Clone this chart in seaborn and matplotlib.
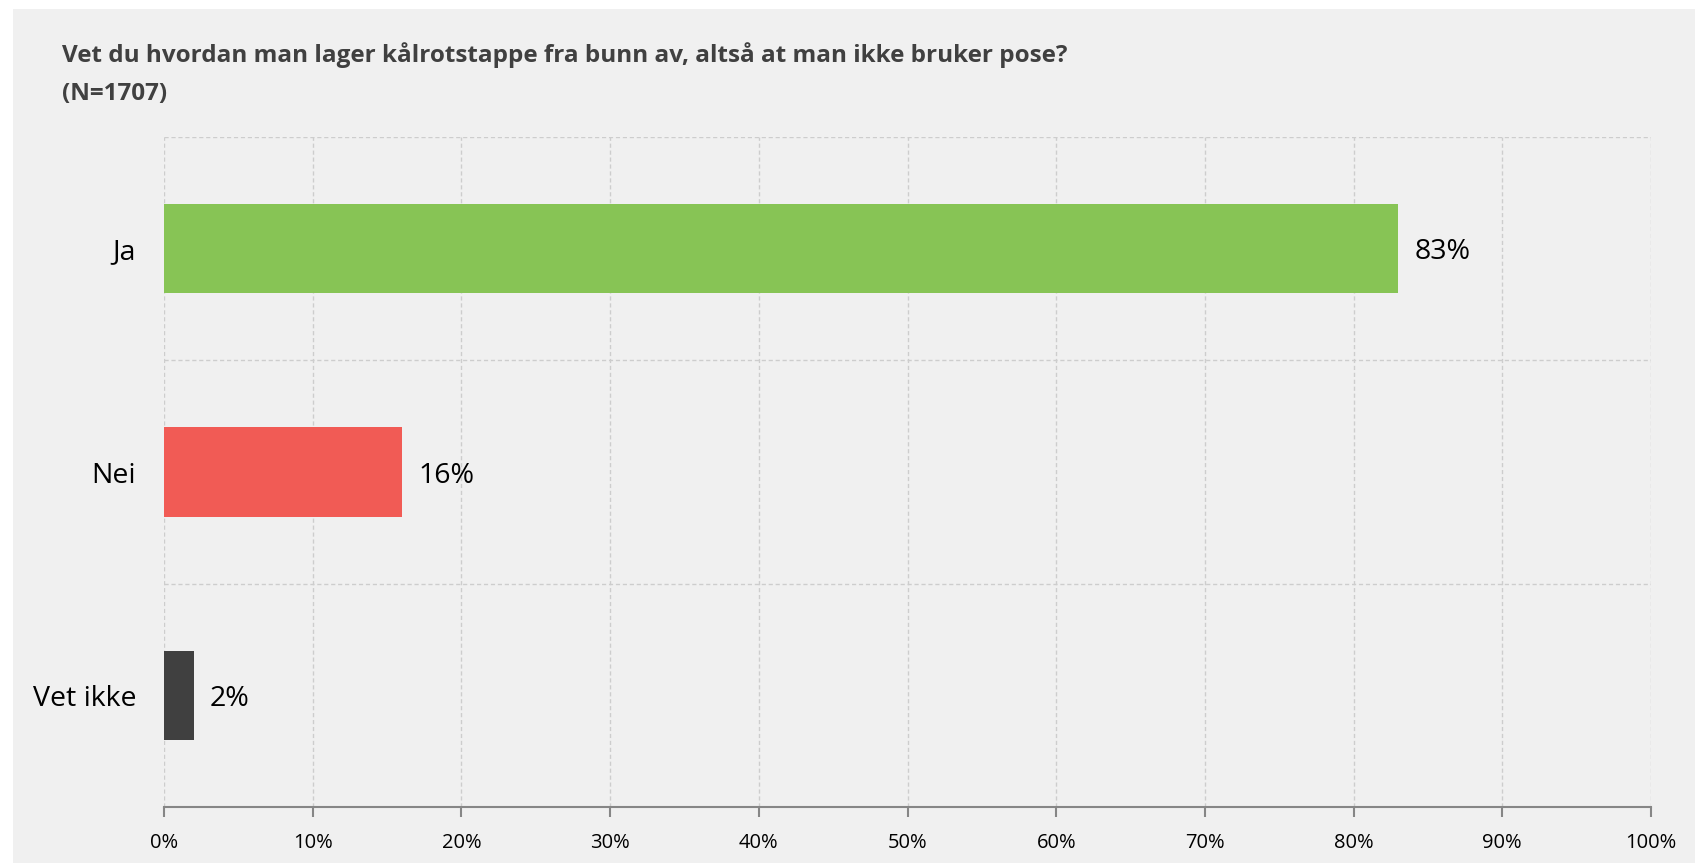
import numpy as np
import pandas as pd
import matplotlib
matplotlib.use("Agg")
import matplotlib.pyplot as plt
import seaborn as sns
from matplotlib.patches import Rectangle

# data
categories = ["Ja", "Nei", "Vet ikke"]
values = [83, 16, 2]
bar_colors = ["#87C455", "#F15B55", "#404040"]
x_ticks = list(range(0, 101, 10))
title = "Vet du hvordan man lager kålrotstappe fra bunn av, altså at man ikke bruker pose?\n(N=1707)"

df = pd.DataFrame({"svar": categories, "andel": values})

sns.set_style("white")
plt.rcParams["font.family"] = ["Open Sans", "DejaVu Sans"]

fig = plt.figure(figsize=(16.95, 8.64), dpi=100, facecolor="white")
# light grey panel behind everything
fig.patches.append(Rectangle((13 / 1695, 1 / 864), 1, 1 - 10 / 864, transform=fig.transFigure,
                             facecolor="#F0F0F0", edgecolor="none", zorder=-10))

ax = fig.add_axes([164 / 1695, 1 - 807 / 864, (1651 - 164) / 1695, (807 - 137) / 864])
ax.set_facecolor("none")

sns.barplot(data=df, x="andel", y="svar", hue="svar", palette=bar_colors, legend=False,
            orient="h", width=0.4, saturation=1, linewidth=0, edgecolor="none", ax=ax, zorder=3)

for i, v in enumerate(values):
    ax.text(v + 1.1, i, f"{v}%", va="center_baseline", ha="left", fontsize=20.5, color="black")

ax.set_xlim(0, 100)
ax.set_ylim(2.5, -0.5)
ax.set_xticks(x_ticks)
ax.set_xticklabels([f"{t}%" for t in x_ticks], fontsize=14.5, color="black")
ax.set_yticks(range(len(categories)))
ax.set_yticklabels(categories, fontsize=20.5, color="black", va="center_baseline")
ax.set_yticks([-0.5, 0.5, 1.5], minor=True)
ax.tick_params(axis="y", which="both", length=0, pad=20)
ax.tick_params(axis="x", bottom=True, length=7, width=1.5, color="#868686", direction="out", pad=12)

ax.grid(False)
ax.xaxis.grid(True, linestyle=(0, (3, 2)), color="#CDCDCD", linewidth=1, zorder=0)
ax.yaxis.grid(True, which="minor", linestyle=(0, (3, 2)), color="#CDCDCD", linewidth=1, zorder=0)
ax.set_axisbelow(True)

for s in ["top", "right", "left"]:
    ax.spines[s].set_visible(False)
ax.spines["bottom"].set_color("#868686")
ax.spines["bottom"].set_linewidth(1.5)
ax.set_xlabel("")
ax.set_ylabel("")

fig.text(62 / 1695, 1 - 74 / 864, title, fontsize=17.5, fontweight="bold", color="#404040",
         ha="left", va="center", linespacing=1.75)

fig.savefig("out.png", dpi=100, facecolor="white")
